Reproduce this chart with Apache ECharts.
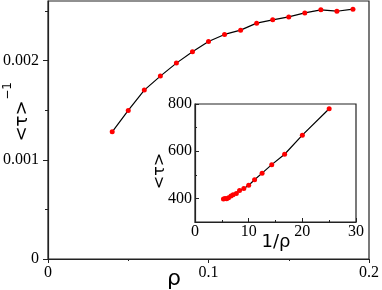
<!DOCTYPE html>
<html><head><meta charset="utf-8">
<script src="https://cdn.jsdelivr.net/npm/echarts@6/dist/echarts.min.js"></script>
<style>html,body{margin:0;padding:0;background:#fff}#c{width:382px;height:290px}</style>
</head><body><div id="c"></div>
<script>
// main panel data: rho vs <tau>^-1
const rho = [0.04, 0.05, 0.06, 0.07, 0.08, 0.09, 0.10, 0.11, 0.12, 0.13, 0.14, 0.15, 0.16, 0.17, 0.18, 0.19];
const invTau = [0.001282, 0.001497, 0.001702, 0.001843, 0.001974, 0.002088, 0.002192, 0.002263, 0.002306, 0.002377, 0.002410, 0.002440, 0.002480, 0.002511, 0.002497, 0.002518];
// inset data: 1/rho vs <tau>
const invRho = [25, 20, 16.7, 14.3, 12.5, 11.1, 10, 9.1, 8.3, 7.7, 7.1, 6.7, 6.25, 5.9, 5.6, 5.3];
const tau = [780, 668, 587, 543, 507, 479, 456, 442, 434, 421, 415, 410, 403, 398, 400, 397];
// tick values
const mainYMajor = [0, 0.001, 0.002];
const mainYMinor = [0.0005, 0.0015, 0.0025];
const insetYMajor = [400, 600, 800];
const insetYMinor = [500, 700];

const AX = '#222';
const serif = 'Liberation Serif';
const sans = 'DejaVu Sans';

const chart = echarts.init(document.getElementById('c'), null, {renderer: 'canvas'});
const mainPts = rho.map((r, i) => [r, invTau[i]]);
const insetPts = invRho.map((r, i) => [r, tau[i]]);

chart.setOption({
  animation: false,
  grid: [
    {left: 48, top: 1, width: 323, height: 258, show: true, borderColor: AX, borderWidth: 1.2, backgroundColor: 'transparent', containLabel: false},
    {left: 195, top: 104, width: 161, height: 118, show: true, borderColor: AX, borderWidth: 1.2, backgroundColor: '#fff', containLabel: false}
  ],
  xAxis: [
    {gridIndex: 0, type: 'value', min: 0, max: 0.2, interval: 0.1,
     axisLine: {show: true, lineStyle: {color: AX, width: 1.2}},
     axisTick: {show: true, inside: false, length: 4, lineStyle: {color: AX, width: 1}},
     minorTick: {show: true, splitNumber: 2, length: 2, lineStyle: {color: AX, width: 1}},
     axisLabel: {color: '#000', fontFamily: serif, fontSize: 16, margin: 6},
     splitLine: {show: false}},
    {gridIndex: 1, type: 'value', min: 0, max: 30, interval: 10,
     axisLine: {show: true, lineStyle: {color: AX, width: 1.2}},
     axisTick: {show: true, inside: true, length: 4, lineStyle: {color: AX, width: 1}},
     minorTick: {show: true, splitNumber: 2, length: 2, lineStyle: {color: AX, width: 1}},
     axisLabel: {color: '#000', fontFamily: serif, fontSize: 16, margin: 2},
     splitLine: {show: false}}
  ],
  yAxis: [
    {gridIndex: 0, type: 'value', position: 'left', min: 0, max: 0.0026,
     axisLine: {show: true, lineStyle: {color: AX, width: 1.2}},
     axisTick: {show: true, inside: false, length: 5, customValues: mainYMajor, lineStyle: {color: AX, width: 1}},
     axisLabel: {color: '#000', fontFamily: serif, fontSize: 16, margin: 9, customValues: mainYMajor},
     splitLine: {show: false}},
    {gridIndex: 0, type: 'value', position: 'left', min: 0, max: 0.0026,
     axisLine: {show: false},
     axisTick: {show: true, inside: false, length: 3, customValues: mainYMinor, lineStyle: {color: AX, width: 1}},
     axisLabel: {show: false},
     splitLine: {show: false}},
    {gridIndex: 1, type: 'value', position: 'left', min: 300, max: 800,
     axisLine: {show: true, lineStyle: {color: AX, width: 1.2}},
     axisTick: {show: true, inside: true, length: 4, customValues: insetYMajor, lineStyle: {color: AX, width: 1}},
     axisLabel: {color: '#000', fontFamily: serif, fontSize: 16, margin: 3, customValues: insetYMajor},
     splitLine: {show: false}},
    {gridIndex: 1, type: 'value', position: 'left', min: 300, max: 800,
     axisLine: {show: false},
     axisTick: {show: true, inside: true, length: 2, customValues: insetYMinor, lineStyle: {color: AX, width: 1}},
     axisLabel: {show: false},
     splitLine: {show: false}}
  ],
  series: [
    {type: 'line', xAxisIndex: 0, yAxisIndex: 0, data: mainPts, symbol: 'circle', symbolSize: 5,
     itemStyle: {color: '#ff0000'}, lineStyle: {color: '#000', width: 1.2}},
    {type: 'line', xAxisIndex: 1, yAxisIndex: 2, data: insetPts, symbol: 'circle', symbolSize: 5,
     itemStyle: {color: '#ff0000'}, lineStyle: {color: '#000', width: 1.2}}
  ],
  graphic: [
    {type: 'text', x: 174, y: 279, style: {text: 'ρ', fontFamily: sans, fontSize: 22, fill: '#000', align: 'center', verticalAlign: 'middle'}},
    {type: 'text', x: 22, y: 121, rotation: Math.PI / 2, style: {text: '<τ>', fontFamily: sans, fontSize: 18, fill: '#000', align: 'center', verticalAlign: 'middle'}},
    {type: 'text', x: 8, y: 91, rotation: Math.PI / 2, style: {text: '−1', fontFamily: sans, fontSize: 12, fill: '#000', align: 'center', verticalAlign: 'middle'}},
    {type: 'text', x: 160, y: 171, rotation: Math.PI / 2, style: {text: '<τ>', fontFamily: sans, fontSize: 16, fill: '#000', align: 'center', verticalAlign: 'middle'}},
    {type: 'text', x: 276, y: 242, style: {text: '1/ρ', fontFamily: sans, fontSize: 18, fill: '#000', align: 'center', verticalAlign: 'middle'}}
  ]
});
</script></body></html>
